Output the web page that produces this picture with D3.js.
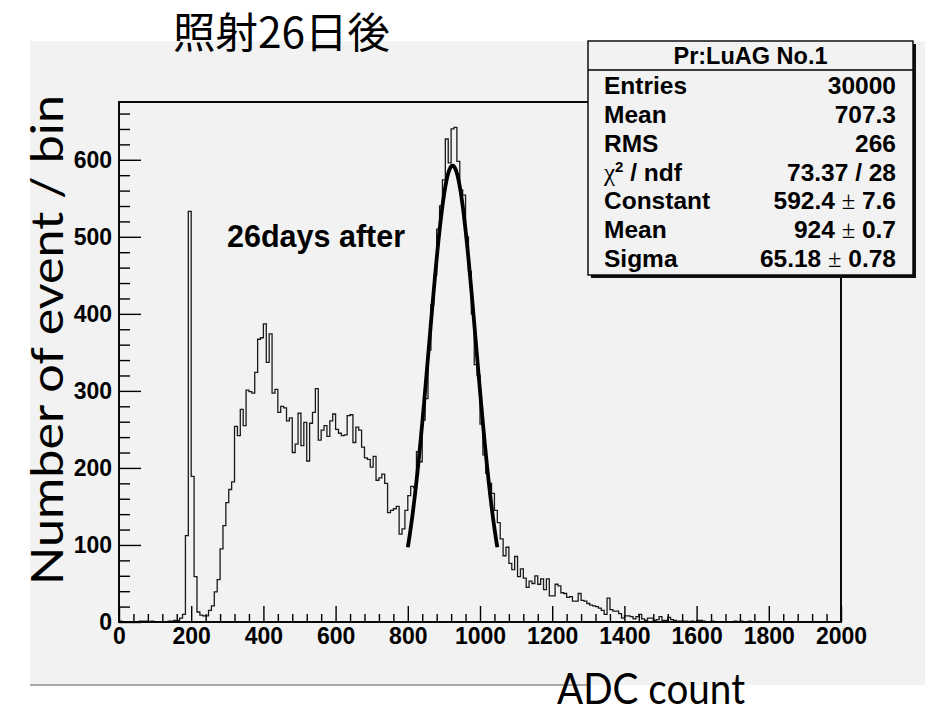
<!DOCTYPE html>
<html>
<head>
<meta charset="utf-8">
<script src="https://cdn.jsdelivr.net/npm/d3@7"></script>
<style>
  body { margin: 0; background: #ffffff; }
  svg { display: block; }
</style>
</head>
<body>
<svg id="chart" width="925" height="712"></svg>
<script>
// ---- histogram: 250 bins of width 8 ADC counts, starting at 0 ----
const binStart = 0;
const binWidth = 8;
const counts = [
  1, 0, 0, 0, 0, 0, 0, 1, 1, 1,            // 0 - 72
  0, 1, 0, 0, 0, 0, 0, 1, 1, 2,            // 80 - 152
  2, 5, 10, 112, 533, 189, 59, 13, 9, 8,   // 160 - 232
  8, 15, 21, 39, 55, 95, 125, 155, 172, 182, // 240 - 312
  254, 242, 276, 255, 301, 299, 297, 324, 367, 369, // 320 - 392
  387, 337, 374, 297, 302, 272, 280, 278, 261, 265, // 400 - 472
  220, 231, 271, 229, 259, 209, 258, 272, 303, 236, // 480 - 552
  249, 255, 241, 261, 270, 250, 245, 242, 243, 268, // 560 - 632
  269, 233, 253, 249, 227, 213, 211, 201, 215, 184, // 640 - 712
  187, 192, 180, 142, 145, 147, 150, 114, 121, 145, // 720 - 792
  164, 176, 174, 221, 208, 262, 290, 353, 412, 450, // 800 - 872
  510, 540, 574, 627, 596, 640, 642, 598, 561, 554, // 880 - 952
  500, 455, 400, 334, 320, 257, 217, 193, 180, 167, // 960 - 1032
  145, 129, 108, 86, 97, 76, 68, 85, 59, 69,        // 1040 - 1112
  57, 45, 53, 50, 60, 49, 56, 42, 56, 34,           // 1120 - 1192
  34, 49, 47, 38, 37, 32, 33, 27, 27, 37,           // 1200 - 1272
  28, 27, 24, 22, 21, 20, 18, 15, 10, 31,           // 1280 - 1352
  16, 14, 14, 11, 5, 8, 8, 7, 4, 7,                 // 1360 - 1432
  10, 4, 2, 5, 5, 2, 3, 7, 2, 2,                    // 1440 - 1512
  6, 3, 2, 1, 1, 1, 1, 0, 1, 0,                     // 1520 - 1592
  2, 2, 1, 0, 0, 1, 0, 0, 0, 0,                     // 1600 - 1672
  0, 0, 0, 1, 0, 1, 0, 0, 1, 0,                     // 1680 - 1752
  0, 0, 0, 0, 0, 0, 0, 0, 0, 0,                     // 1760 - 1832
  0, 0, 0, 0, 0, 0, 0, 0, 0, 0,                     // 1840 - 1912
  0, 0, 0, 0, 0, 0, 0, 0, 0, 0                      // 1920 - 1992
];

// ---- gaussian fit ----
const fitConstant = 592.4;
const fitMean = 924;
const fitSigma = 65.18;
const fitRange = [800, 1048];

// ---- axes ----
const xDomain = [0, 2000];
const yDomain = [0, 675];
const xMajorTicks = [0, 200, 400, 600, 800, 1000, 1200, 1400, 1600, 1800, 2000];
const yMajorTicks = [0, 100, 200, 300, 400, 500, 600];
const xMinorStep = 40;
const yMinorStep = 20;

// ---- texts ----
const titleText = "照射26日後";
const xTitle = "ADC count";
const yTitle = "Number of event / bin";
const annotation = "26days after";
const statsTitle = "Pr:LuAG No.1";
const statsLabels = ["Entries", "Mean", "RMS", "χ² / ndf", "Constant", "Mean", "Sigma"];
const statsValues = ["30000", "707.3", "266", "73.37 / 28", "592.4 ± 7.6", "924 ± 0.7", "65.18 ± 0.78"];

// ------------------------------------------------------------
const svg = d3.select("#chart");
const rootFont = "'Liberation Sans', Arial, Helvetica, sans-serif";
const padColor = "#f2f2f2";

// canvas background
svg.append("rect")
  .attr("x", 30).attr("y", 41).attr("width", 895).attr("height", 644)
  .attr("fill", padColor);
svg.append("line")
  .attr("x1", 30).attr("x2", 590).attr("y1", 685).attr("y2", 685)
  .attr("stroke", "#a8a8a8").attr("stroke-width", 2);

const x = d3.scaleLinear().domain(xDomain).range([119, 841]);
const y = d3.scaleLinear().domain(yDomain).range([622, 102]);

// frame
svg.append("rect")
  .attr("x", x(xDomain[0])).attr("y", y(yDomain[1]))
  .attr("width", x(xDomain[1]) - x(xDomain[0]))
  .attr("height", y(yDomain[0]) - y(yDomain[1]))
  .attr("fill", padColor).attr("stroke", "#000").attr("stroke-width", 1.6);

// histogram outline (step)
const stepPoints = counts.map((c, i) => [binStart + i * binWidth, c]);
stepPoints.push([binStart + counts.length * binWidth, counts[counts.length - 1]]);
const stepLine = d3.line()
  .x(d => x(d[0])).y(d => y(d[1]))
  .curve(d3.curveStepAfter);
svg.append("path")
  .datum(stepPoints)
  .attr("d", stepLine)
  .attr("fill", "none")
  .attr("stroke", "#1a1a1a")
  .attr("stroke-width", 1.3);

// fit curve
const gauss = v => fitConstant * Math.exp(-0.5 * Math.pow((v - fitMean) / fitSigma, 2));
const fitXs = d3.range(fitRange[0], fitRange[1] + 0.01, 1);
svg.append("path")
  .datum(fitXs)
  .attr("d", d3.line().x(v => x(v)).y(v => y(gauss(v))))
  .attr("fill", "none")
  .attr("stroke", "#000")
  .attr("stroke-width", 3.8)
  .attr("stroke-linejoin", "round");

// axes
function styleAxis(g) {
  g.select(".domain").remove();
  g.selectAll(".tick line").attr("stroke", "#000").attr("stroke-width", 1.4);
  g.selectAll("text")
    .attr("font-family", rootFont)
    .attr("font-weight", "bold")
    .attr("font-size", 23)
    .attr("fill", "#000");
}
const xMinor = d3.range(xDomain[0], xDomain[1] + 1, xMinorStep).filter(v => !xMajorTicks.includes(v));
const yMinor = d3.range(yDomain[0], yDomain[1], yMinorStep).filter(v => !yMajorTicks.includes(v));

svg.append("g")
  .attr("transform", `translate(0,${y(0)})`)
  .call(d3.axisBottom(x).tickValues(xMinor).tickSize(-8).tickFormat(""))
  .call(styleAxis);
svg.append("g")
  .attr("transform", `translate(0,${y(0)})`)
  .call(d3.axisBottom(x).tickValues(xMajorTicks).tickSize(-16).tickPadding(6).tickFormat(d3.format("d")))
  .call(styleAxis);
svg.append("g")
  .attr("transform", `translate(${x(0)},0)`)
  .call(d3.axisLeft(y).tickValues(yMinor).tickSize(-11).tickFormat(""))
  .call(styleAxis);
svg.append("g")
  .attr("transform", `translate(${x(0)},0)`)
  .call(d3.axisLeft(y).tickValues(yMajorTicks).tickSize(-22).tickPadding(7).tickFormat(d3.format("d")))
  .call(styleAxis);

// frame lines on top
svg.append("rect")
  .attr("x", x(xDomain[0])).attr("y", y(yDomain[1]))
  .attr("width", x(xDomain[1]) - x(xDomain[0]))
  .attr("height", y(yDomain[0]) - y(yDomain[1]))
  .attr("fill", "none").attr("stroke", "#000").attr("stroke-width", 1.6);

// annotation
svg.append("text")
  .attr("x", 227).attr("y", 247)
  .attr("font-family", rootFont).attr("font-weight", "bold").attr("font-size", 30.5)
  .attr("fill", "#000")
  .text(annotation);

// statistics box
const box = { x: 588, y: 41, w: 325, h: 234 };
svg.append("rect")
  .attr("x", box.x + 3).attr("y", box.y + 3).attr("width", box.w).attr("height", box.h)
  .attr("fill", "#111");
svg.append("rect")
  .attr("x", box.x).attr("y", box.y).attr("width", box.w).attr("height", box.h)
  .attr("fill", padColor).attr("stroke", "#000").attr("stroke-width", 1.4);
svg.append("line")
  .attr("x1", box.x).attr("x2", box.x + box.w).attr("y1", box.y + 29).attr("y2", box.y + 29)
  .attr("stroke", "#000").attr("stroke-width", 1.4);
svg.append("text")
  .attr("x", box.x + box.w / 2).attr("y", box.y + 23)
  .attr("text-anchor", "middle")
  .attr("font-family", rootFont).attr("font-weight", "bold").attr("font-size", 23.5)
  .text(statsTitle);

// write a stats string, rendering χ, superscript 2 and ± in symbol style
function writeRich(textSel, str) {
  const parts = str.split(/(χ²|±)/);
  let raised = false;
  parts.forEach(p => {
    if (p === "χ²") {
      textSel.append("tspan").attr("font-family", "'Liberation Serif', 'DejaVu Serif', serif")
        .attr("font-weight", "normal").attr("font-size", 25).text("χ");
      textSel.append("tspan").attr("font-size", 15).attr("dy", -9).text("2");
      raised = true;
    } else if (p === "±") {
      textSel.append("tspan").attr("font-family", "'Liberation Serif', 'DejaVu Serif', serif")
        .attr("font-weight", "normal").text("±");
    } else if (p.length) {
      const t = textSel.append("tspan").text(p);
      if (raised) { t.attr("dy", 9); raised = false; }
    }
  });
}
const rowY = d3.scalePoint().domain(d3.range(statsLabels.length)).range([box.y + 53, box.y + 226]);
statsLabels.forEach((lab, i) => {
  const t = svg.append("text")
    .attr("x", box.x + 16).attr("y", rowY(i))
    .attr("font-family", rootFont).attr("font-weight", "bold").attr("font-size", 24.5);
  writeRich(t, lab);
  const v = svg.append("text")
    .attr("x", box.x + 308).attr("y", rowY(i))
    .attr("text-anchor", "end")
    .attr("font-family", rootFont).attr("font-weight", "bold").attr("font-size", 24.5);
  writeRich(v, statsValues[i]);
});

// slide titles
svg.append("text")
  .attr("x", 173).attr("y", 48)
  .attr("font-family", "'Noto Sans CJK JP', 'Noto Sans CJK SC', sans-serif")
  .attr("font-size", 42)
  .attr("textLength", 217).attr("lengthAdjust", "spacingAndGlyphs")
  .attr("fill", "#000")
  .text(titleText);

svg.append("text")
  .attr("x", 557).attr("y", 704)
  .attr("font-family", "Lato, 'Open Sans', sans-serif")
  .attr("font-size", 42)
  .attr("textLength", 188).attr("lengthAdjust", "spacingAndGlyphs")
  .attr("fill", "#000")
  .text(xTitle);

svg.append("text")
  .attr("transform", "translate(63,340) rotate(-90)")
  .attr("text-anchor", "middle")
  .attr("font-family", "Lato, 'Open Sans', sans-serif")
  .attr("font-size", 45)
  .attr("textLength", 490).attr("lengthAdjust", "spacingAndGlyphs")
  .attr("fill", "#000")
  .text(yTitle);
</script>
</body>
</html>
